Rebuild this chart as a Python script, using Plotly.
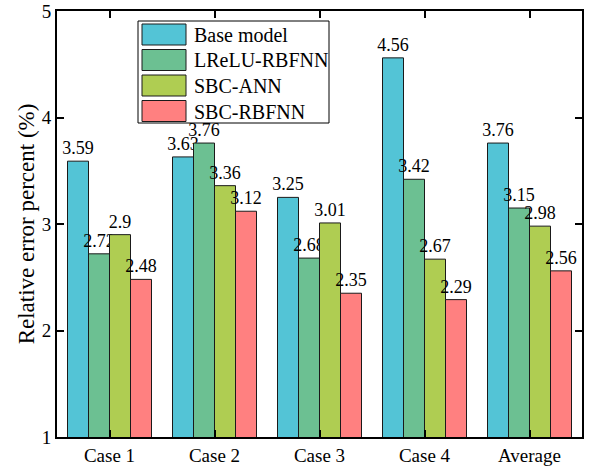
import plotly.graph_objects as go

categories = ["Case 1", "Case 2", "Case 3", "Case 4", "Average"]
series_names = ["Base model", "LReLU-RBFNN", "SBC-ANN", "SBC-RBFNN"]
base_model = [3.59, 3.63, 3.25, 4.56, 3.76]
lrelu_rbfnn = [2.72, 3.76, 2.68, 3.42, 3.15]
sbc_ann = [2.90, 3.36, 3.01, 2.67, 2.98]
sbc_rbfnn = [2.48, 3.12, 2.35, 2.29, 2.56]
labels = [
    ["3.59", "3.63", "3.25", "4.56", "3.76"],
    ["2.72", "3.76", "2.68", "3.42", "3.15"],
    ["2.9", "3.36", "3.01", "2.67", "2.98"],
    ["2.48", "3.12", "2.35", "2.29", "2.56"],
]
colors = ["#53C4D6", "#6CC092", "#AFCD52", "#FF8080"]
y_ticks = [1, 2, 3, 4, 5]

FONT = "Liberation Serif"
W, H = 594, 468
# target plot area on screen: x 57..582, y 11..437
L, T = 57, 11
R, B = W - 582, H - 437

fig = go.Figure()
for name, vals, txt, col in zip(series_names, [base_model, lrelu_rbfnn, sbc_ann, sbc_rbfnn], labels, colors):
    fig.add_trace(go.Bar(
        x=categories, y=vals, name=name, text=txt, textposition="outside",
        textfont=dict(family=FONT, size=18, color="black"), constraintext="none",
        marker=dict(color=col, line=dict(color="#1a1a1a", width=1)),
        cliponaxis=False, showlegend=False,
    ))

# custom legend (box, swatches, names); positions given in screen pixels
pw, ph = W - L - R, H - T - B
def px(x):
    return (x - L) / pw
def py(y):
    return (H - B - y) / ph

shapes = [dict(type="rect", xref="paper", yref="paper", x0=px(138), x1=px(329), y0=py(123), y1=py(21),
               line=dict(color="black", width=1), fillcolor="white", layer="above")]
annotations = []
row_tops = [24, 49.5, 75, 100.5]
for name, col, top in zip(series_names, colors, row_tops):
    shapes.append(dict(type="rect", xref="paper", yref="paper", x0=px(142), x1=px(186), y0=py(top + 21), y1=py(top),
                       line=dict(color="#1a1a1a", width=1), fillcolor=col, layer="above"))
    annotations.append(dict(xref="paper", yref="paper", x=px(192), y=py(top + 11), text=name, showarrow=False,
                            xanchor="left", yanchor="middle", font=dict(family=FONT, size=20, color="black")))

fig.update_layout(
    width=W, height=H, margin=dict(l=L, r=R, t=T, b=B),
    paper_bgcolor="white", plot_bgcolor="white",
    barmode="group", bargap=0.2, bargroupgap=0,
    font=dict(family=FONT, color="black"),
    shapes=shapes, annotations=annotations,
)
fig.update_xaxes(showline=True, linecolor="black", linewidth=2, mirror="ticks", automargin=False,
                 ticks="inside", ticklen=7, tickwidth=1.5, tickcolor="black",
                 tickfont=dict(family=FONT, size=19, color="black"), showgrid=False)
fig.update_yaxes(range=[1, 5], tickvals=y_ticks, showline=True, linecolor="black", linewidth=2, mirror="ticks",
                 automargin=False, ticklabeloverflow="allow",
                 ticks="inside", ticklen=7, tickwidth=1.5, tickcolor="black",
                 tickfont=dict(family=FONT, size=19, color="black"), showgrid=False, zeroline=False,
                 title=dict(text="Relative error percent (%)", font=dict(family=FONT, size=23, color="black"),
                            standoff=1))

fig.write_html("out.html", config={"displayModeBar": False},
               post_script="document.body.style.margin='0px';")
